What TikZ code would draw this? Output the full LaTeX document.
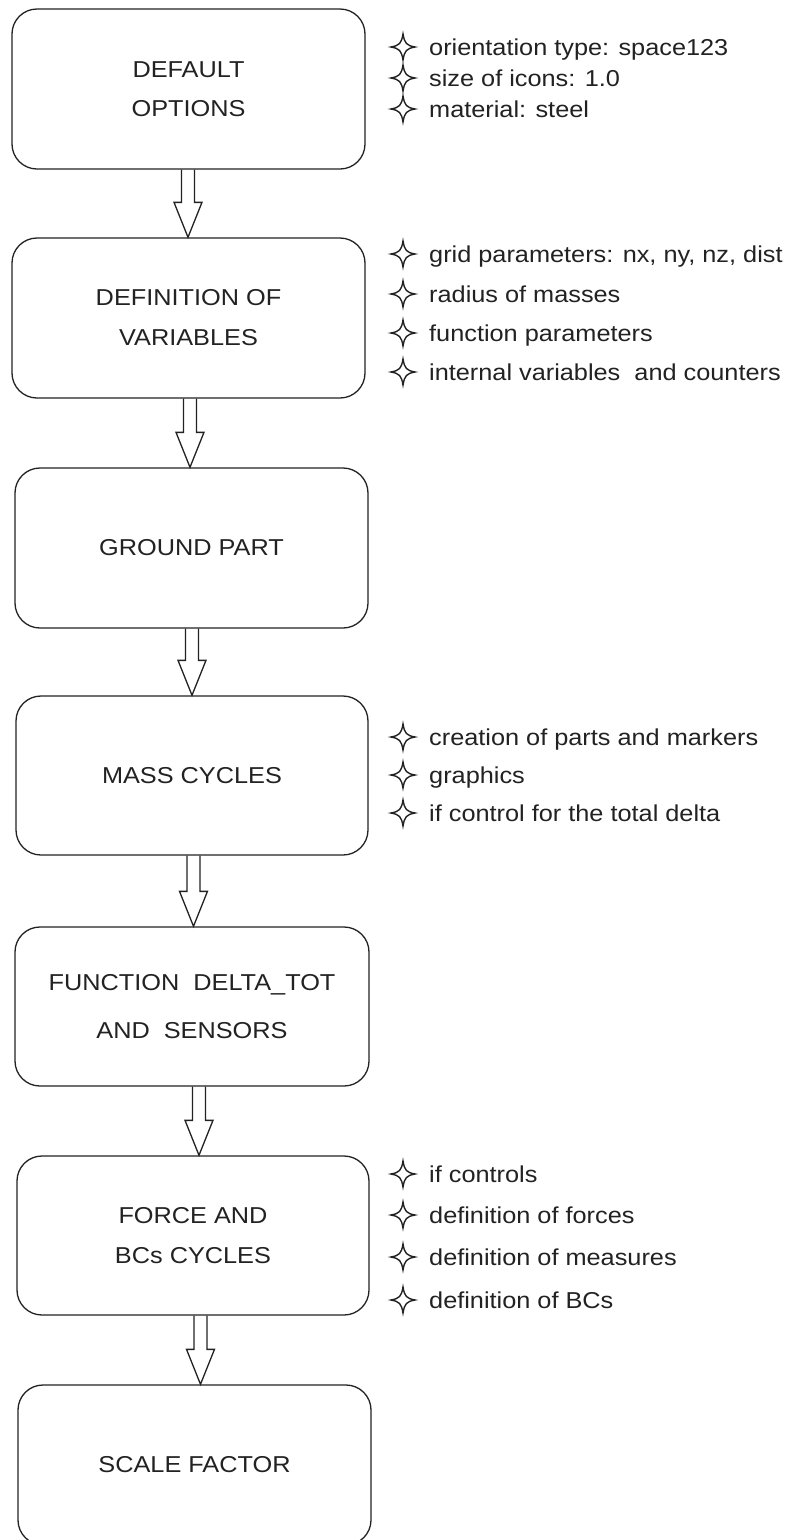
\documentclass[tikz,border=0pt]{standalone}
\usepackage{fontspec}
\setmainfont{Liberation Sans}[FakeStretch=1.1]
\usetikzlibrary{calc}
\definecolor{ink}{HTML}{222222}
\tikzset{
  box/.style={draw=ink, line width=1.3pt, rounded corners=25pt, minimum width=353pt, minimum height=160pt, inner sep=0pt, align=center, text=ink, font=\fontsize{23}{39}\selectfont},
  side/.style={anchor=base west, inner sep=0pt, text=ink, font=\fontsize{23}{26}\selectfont},
  arrowline/.style={draw=ink, line width=1.3pt, line join=miter},
  bullet/.pic={\draw[ink, line width=1.4pt, line join=miter] (0,-13) .. controls (1.6,-3.5) and (3.5,-1.6) .. (12,0) .. controls (3.5,1.6) and (1.6,3.5) .. (0,13) .. controls (-1.6,3.5) and (-3.5,1.6) .. (-12,0) .. controls (-3.5,-1.6) and (-1.6,-3.5) .. cycle;}
}
\newcommand\myblockarrow[2]{%
  \draw[arrowline] ($(#1)+(-6.5,0)$) -- ($(#2)+(-6.5,-35)$) -- ($(#2)+(-14,-35)$) -- (#2) -- ($(#2)+(14,-35)$) -- ($(#2)+(6.5,-35)$) -- ($(#1)+(6.5,0)$);}
\begin{document}
\begin{tikzpicture}[x=1pt,y=-1pt]
\clip (0,0) rectangle (792,1540);
\fill[white] (0,0) rectangle (792,1540);

\node[box] (b1) at (188.5,89) {DEFAULT\\OPTIONS};
\node[box, font=\fontsize{23}{40}\selectfont] (b2) at (188.5,318) {DEFINITION OF\\VARIABLES};
\node[box] (b3) at (191.5,548) {GROUND PART};
\node[box, minimum width=352pt, minimum height=159pt] (b4) at (192,775.5) {MASS CYCLES};
\node[box, minimum width=354pt, minimum height=159pt, font=\fontsize{23}{48}\selectfont] (b5) at (192,1006.5) {FUNCTION\ \ DELTA\_TOT\\AND\ \ SENSORS};
\node[box, minimum width=352pt, minimum height=159pt, font=\fontsize{23}{40}\selectfont] (b6) at (193,1235.5) {FORCE AND\\BCs CYCLES};
\node[box, minimum height=160pt] (b7) at (194.5,1465) {SCALE FACTOR};

\coordinate (s1) at ($(b1.south)+(-0.5,0)$); \coordinate (t1) at (s1 |- b2.north);
\coordinate (s2) at ($(b2.south)+(1.5,0)$);  \coordinate (t2) at (s2 |- b3.north);
\coordinate (s3) at ($(b3.south)+(0.5,0)$);  \coordinate (t3) at (s3 |- b4.north);
\coordinate (s4) at ($(b4.south)+(1.5,0)$);  \coordinate (t4) at (s4 |- b5.north);
\coordinate (s5) at ($(b5.south)+(7,0)$);    \coordinate (t5) at (s5 |- b6.north);
\coordinate (s6) at ($(b6.south)+(7.5,0)$);  \coordinate (t6) at (s6 |- b7.north);
\myblockarrow{s1}{t1}
\myblockarrow{s2}{t2}
\myblockarrow{s3}{t3}
\myblockarrow{s4}{t4}
\myblockarrow{s5}{t5}
\myblockarrow{s6}{t6}

% side notes
\foreach \y/\t/\n in {55/orientation type: space123/n11, 86/size of icons: 1.0/n12, 117/material: steel/n13,
  262/{grid parameters: nx, ny, nz, dist}/n21, 302/radius of masses/n22, 341/function parameters/n23, 380/internal variables\ \ and counters/n24,
  745/creation of parts and markers/n31, 783/graphics/n32, 821/if control for the total delta/n33,
  1182/if controls/n41, 1223/definition of forces/n42, 1265/definition of measures/n43, 1308/definition of BCs/n44}{
  \node[side] (\n) at (429,\y) {\t};
  \pic at (403,\y-8) {bullet};
}
\end{tikzpicture}
\end{document}
